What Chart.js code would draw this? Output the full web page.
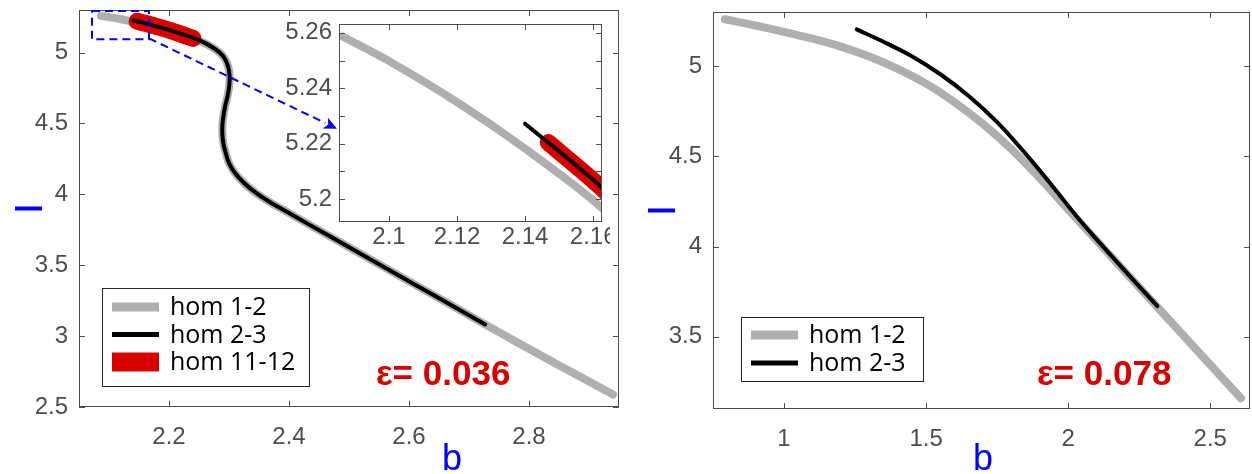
<!DOCTYPE html>
<html>
<head>
<meta charset="utf-8">
<script src="https://cdn.jsdelivr.net/npm/chart.js@4.4.1/dist/chart.umd.min.js"></script>
<style>
  body { margin: 0; background: #fff; width: 1252px; height: 474px; overflow: hidden; position: relative; }
  canvas { position: absolute; }
</style>
</head>
<body>
<canvas id="leftChart" width="630" height="474" style="left:0;top:0"></canvas>
<canvas id="insetChart" width="340" height="240" style="left:270px;top:14px"></canvas>
<canvas id="rightChart" width="622" height="474" style="left:630px;top:0"></canvas>
<script>
// ---- data: left panel (eps = 0.036) ----
const leftGrayB  = [2.0865, 2.100, 2.120, 2.140, 2.162, 2.200, 2.250, 2.275, 2.290, 2.298, 2.301, 2.3005, 2.298, 2.294, 2.291, 2.289, 2.289, 2.291, 2.295, 2.300, 2.310, 2.325, 2.345, 2.370, 2.400, 2.430, 2.490, 2.550, 2.610, 2.670, 2.727, 2.780, 2.830, 2.880, 2.940];
const leftGrayV  = [5.2586, 5.2498, 5.2350, 5.2182, 5.1974, 5.152, 5.083, 5.030, 4.975, 4.910, 4.840, 4.770, 4.700, 4.630, 4.560, 4.490, 4.420, 4.350, 4.285, 4.220, 4.150, 4.080, 4.010, 3.940, 3.868, 3.795, 3.651, 3.507, 3.363, 3.219, 3.082, 2.957, 2.841, 2.725, 2.588];
const leftBlackB = [2.140, 2.1626, 2.200, 2.250, 2.275, 2.290, 2.298, 2.301, 2.3005, 2.298, 2.294, 2.291, 2.289, 2.289, 2.291, 2.295, 2.300, 2.310, 2.325, 2.345, 2.370, 2.400, 2.430, 2.490, 2.550, 2.610, 2.670, 2.727];
const leftBlackV = [5.2272, 5.2041, 5.160, 5.088, 5.030, 4.975, 4.910, 4.840, 4.770, 4.700, 4.630, 4.560, 4.490, 4.420, 4.350, 4.285, 4.220, 4.150, 4.080, 4.010, 3.940, 3.868, 3.795, 3.651, 3.507, 3.363, 3.219, 3.082];
const leftRedB   = [2.1468, 2.162, 2.180, 2.200, 2.220, 2.240];
const leftRedV   = [5.2204, 5.2045, 5.183, 5.158, 5.130, 5.100];

// ---- data: right panel (eps = 0.078) ----
const rightGrayB  = [0.792, 0.900, 1.000, 1.100, 1.200, 1.300, 1.400, 1.500, 1.600, 1.700, 1.800, 1.900, 2.000, 2.100, 2.200, 2.300, 2.400, 2.500, 2.608];
const rightGrayV  = [5.260, 5.225, 5.190, 5.152, 5.108, 5.053, 4.985, 4.903, 4.800, 4.680, 4.540, 4.380, 4.205, 4.033, 3.861, 3.689, 3.517, 3.345, 3.160];
const rightBlackB = [1.256, 1.350, 1.450, 1.550, 1.650, 1.750, 1.850, 1.950, 2.039, 2.100, 2.200, 2.314];
const rightBlackV = [5.204, 5.135, 5.055, 4.955, 4.835, 4.690, 4.515, 4.325, 4.150, 4.040, 3.865, 3.670];

// ---- ticks ----
const leftXTicks  = [2.2, 2.4, 2.6, 2.8];
const leftYTicks  = [2.5, 3, 3.5, 4, 4.5, 5];
const insetXTicks = [2.1, 2.12, 2.14, 2.16];
const insetYTicks = [5.2, 5.21, 5.22, 5.23, 5.24, 5.25, 5.26];
const insetYLabels = ['5.2', '', '5.22', '', '5.24', '', '5.26'];
const rightXTicks = [1, 1.5, 2, 2.5];
const rightYTicks = [3.5, 4, 4.5, 5];

const seriesNames = ['hom 1-2', 'hom 2-3', 'hom 11-12'];
const GRAY = '#afafaf', BLACK = '#000000', RED = '#d90000';
const TICK_FONT = { family: 'Liberation Sans', size: 24 };
const TICK_COLOR = '#4d4d4d';

function pts(bs, vs) {
  let out = [];
  for (let i = 0; i < bs.length; i++) out.push({ x: bs[i], y: vs[i] });
  return out;
}

function lineSet(label, data, color, width, order) {
  return {
    label: label, data: data, showLine: true, borderColor: color, backgroundColor: color,
    borderWidth: width, pointRadius: 0, tension: 0.3, borderCapStyle: 'round',
    borderJoinStyle: 'round', order: order
  };
}

// box with ticks pointing inward, matlab style
const framePlugin = {
  id: 'frame',
  afterDatasetsDraw(chart) {
    const { ctx, chartArea: a } = chart;
    const x = chart.scales.x, y = chart.scales.y;
    const t = 6;
    ctx.save();
    ctx.strokeStyle = '#4d4d4d';
    ctx.lineWidth = 1;
    ctx.strokeRect(Math.round(a.left) + 0.5, Math.round(a.top) + 0.5, Math.round(a.right - a.left) - 1, Math.round(a.bottom - a.top) - 1);
    ctx.beginPath();
    x.ticks.forEach(tk => {
      const px = Math.round(x.getPixelForValue(tk.value)) + 0.5;
      ctx.moveTo(px, a.bottom); ctx.lineTo(px, a.bottom - t);
      ctx.moveTo(px, a.top); ctx.lineTo(px, a.top + t);
    });
    y.ticks.forEach(tk => {
      const py = Math.round(y.getPixelForValue(tk.value)) + 0.5;
      ctx.moveTo(a.left, py); ctx.lineTo(a.left + t, py);
      ctx.moveTo(a.right, py); ctx.lineTo(a.right - t, py);
    });
    ctx.stroke();
    ctx.restore();
  }
};

// legend box drawn inside the axes
const boxLegendPlugin = {
  id: 'boxLegend',
  afterDraw(chart, args, opts) {
    if (!opts || !opts.show) return;
    const { ctx, chartArea: a } = chart;
    const left = a.left + opts.dx, top = a.bottom - opts.dy - opts.h;
    ctx.save();
    ctx.fillStyle = '#fff';
    ctx.fillRect(left, top, opts.w, opts.h);
    ctx.strokeStyle = '#262626';
    ctx.lineWidth = 1;
    ctx.strokeRect(Math.round(left) + 0.5, Math.round(top) + 0.5, opts.w, opts.h);
    ctx.font = '25px "Open Sans"';
    ctx.textBaseline = 'middle';
    chart.data.datasets.forEach((ds, i) => {
      const cy = top + opts.first + i * opts.rowH;
      ctx.fillStyle = ds.borderColor;
      const lw = opts.sampleW[i];
      ctx.fillRect(left + 10, cy - lw / 2, 47, lw);
      ctx.fillStyle = '#000';
      ctx.fillText(ds.label, left + 68, cy + 1);
    });
    ctx.restore();
  }
};

// free texts: eps label, axis labels
const notesPlugin = {
  id: 'notes',
  afterDraw(chart, args, opts) {
    if (!opts || !opts.show) return;
    const { ctx } = chart;
    ctx.save();
    // eps text
    ctx.fillStyle = RED;
    ctx.textBaseline = 'alphabetic';
    ctx.textAlign = 'left';
    ctx.font = 'bold 35px "Liberation Sans"';
    ctx.fillText('\u03b5= ' + opts.eps, opts.epsX, opts.epsY);
    // b label
    ctx.fillStyle = '#0000ff';
    ctx.textAlign = 'center';
    ctx.font = '36px "Liberation Sans"';
    ctx.fillText('b', opts.bX, 470);
    // y label (only a bar survives)
    ctx.fillRect(opts.barX, opts.barY - 2, 27, 4);
    ctx.restore();
  }
};

// blue dashed zoom box + arrow to the inset
const zoomMarkPlugin = {
  id: 'zoomMark',
  afterDatasetsDraw(chart, args, opts) {
    if (!opts || !opts.show) return;
    const { ctx } = chart;
    const x = chart.scales.x, y = chart.scales.y;
    const x0 = x.getPixelForValue(opts.box[0]), x1 = x.getPixelForValue(opts.box[1]);
    const y0 = y.getPixelForValue(opts.box[3]), y1 = y.getPixelForValue(opts.box[2]);
    ctx.save();
    ctx.strokeStyle = '#0000ff';
    ctx.fillStyle = '#0000ff';
    ctx.lineWidth = 2;
    ctx.setLineDash([8, 5]);
    ctx.strokeRect(x0, y0 + 1, x1 - x0, y1 - y0);
    const ex = x.getPixelForValue(opts.tip[0]), ey = y.getPixelForValue(opts.tip[1]);
    const ang = Math.atan2(ey - y1, ex - x1);
    const hl = 13;
    ctx.beginPath();
    ctx.moveTo(x1, y1);
    ctx.lineTo(ex - hl * Math.cos(ang), ey - hl * Math.sin(ang));
    ctx.stroke();
    ctx.setLineDash([]);
    ctx.beginPath();
    ctx.moveTo(ex, ey);
    ctx.lineTo(ex - hl * Math.cos(ang) - 6 * Math.sin(ang), ey - hl * Math.sin(ang) + 6 * Math.cos(ang));
    ctx.lineTo(ex - hl * 0.75 * Math.cos(ang), ey - hl * 0.75 * Math.sin(ang));
    ctx.lineTo(ex - hl * Math.cos(ang) + 6 * Math.sin(ang), ey - hl * Math.sin(ang) - 6 * Math.cos(ang));
    ctx.closePath();
    ctx.fill();
    ctx.restore();
  }
};

const insetBgPlugin = {
  id: 'insetBg',
  beforeDatasetsDraw(chart) {
    const { ctx, chartArea: a } = chart;
    ctx.save();
    ctx.fillStyle = '#fff';
    ctx.fillRect(a.left, a.top, a.right - a.left, a.bottom - a.top);
    ctx.restore();
  }
};

function axis(min, max, tickVals, labels, w, h, pad, isX) {
  return {
    type: 'linear', min: min, max: max,
    grid: { display: false, drawTicks: false },
    border: { display: false },
    afterBuildTicks: s => { s.ticks = tickVals.map(v => ({ value: v })); },
    afterFit: s => {
      if (isX) { s.height = h; } else { s.width = w; }
      s.paddingTop = 0; s.paddingBottom = 0; s.paddingLeft = 0; s.paddingRight = 0;
    },
    ticks: {
      font: TICK_FONT, color: TICK_COLOR, padding: pad, maxRotation: 0, autoSkip: false,
      callback: (v, i) => labels ? labels[i] : String(v)
    }
  };
}

function makeChart(id, datasets, o) {
  return new Chart(document.getElementById(id), {
    type: 'scatter',
    data: { datasets: datasets },
    options: {
      responsive: false, animation: false, devicePixelRatio: 1,
      layout: { padding: o.padding },
      scales: {
        x: axis(o.x[0], o.x[1], o.xTicks, o.xLabels, 0, o.xH, o.xPad, true),
        y: axis(o.y[0], o.y[1], o.yTicks, o.yLabels, o.yW, 0, o.yPad, false)
      },
      plugins: {
        legend: { display: false }, tooltip: { enabled: false },
        boxLegend: o.legend || { show: false },
        notes: o.notes || { show: false },
        zoomMark: o.zoom || { show: false }
      }
    },
    plugins: o.plugins
  });
}

function leftSets() {
  return [
    lineSet(seriesNames[0], pts(leftGrayB, leftGrayV), GRAY, 8, 3),
    lineSet(seriesNames[1], pts(leftBlackB, leftBlackV), BLACK, 4, 1),
    lineSet(seriesNames[2], pts(leftRedB, leftRedV), RED, 17, 2)
  ];
}

makeChart('leftChart', leftSets(), {
  padding: { left: 0, right: 11, top: 10, bottom: 0 },
  x: [2.05, 2.95], y: [2.5, 5.3],
  xTicks: leftXTicks, yTicks: leftYTicks,
  xH: 67, yW: 79, xPad: 16, yPad: 11,
  legend: { show: true, dx: 23, dy: 21, w: 207, h: 98, first: 19, rowH: 27.5, sampleW: [9, 5, 19] },
  notes: { show: true, eps: '0.036', epsX: 376, epsY: 385, bX: 452, barX: 15, barY: 208.5 },
  zoom: { show: true, box: [2.0717, 2.1667, 5.10, 5.30], tip: [2.48, 4.463] },
  plugins: [framePlugin, boxLegendPlugin, notesPlugin, zoomMarkPlugin]
});

makeChart('insetChart', leftSets(), {
  padding: { left: 0, right: 8, top: 10, bottom: 0 },
  x: [2.0853, 2.1626], y: [5.1917, 5.2632],
  xTicks: insetXTicks, yTicks: insetYTicks, yLabels: insetYLabels,
  xH: 32, yW: 69, xPad: 1, yPad: 7,
  plugins: [insetBgPlugin, framePlugin]
});

makeChart('rightChart', [
  lineSet(seriesNames[0], pts(rightGrayB, rightGrayV), GRAY, 8, 3),
  lineSet(seriesNames[1], pts(rightBlackB, rightBlackV), BLACK, 4, 1)
], {
  padding: { left: 0, right: 2, top: 12, bottom: 0 },
  x: [0.75, 2.64], y: [3.1, 5.3],
  xTicks: rightXTicks, yTicks: rightYTicks,
  xH: 65, yW: 83, xPad: 16, yPad: 11,
  legend: { show: true, dx: 28, dy: 28, w: 182, h: 64, first: 18, rowH: 28, sampleW: [9, 5] },
  notes: { show: true, eps: '0.078', epsX: 407, epsY: 385, bX: 353, barX: 18, barY: 210.5 },
  plugins: [framePlugin, boxLegendPlugin, notesPlugin]
});
</script>
</body>
</html>
